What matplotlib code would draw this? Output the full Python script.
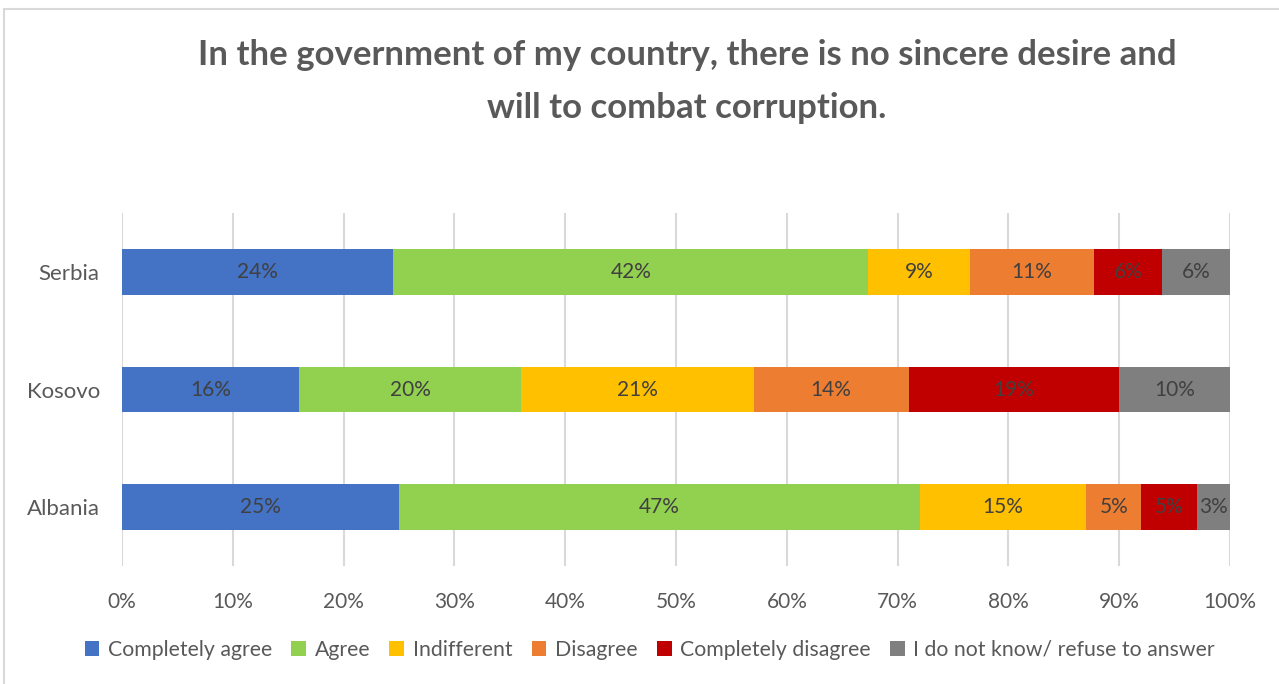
### Modules to import
import numpy as np
import matplotlib
matplotlib.use("Agg")
import matplotlib.pyplot as plt
from matplotlib.patches import Rectangle

### Data (percent of respondents, per answer)
countries = ["Albania", "Kosovo", "Serbia"]
answers = ["Completely agree", "Agree", "Indifferent", "Disagree",
           "Completely disagree", "I do not know/ refuse to answer"]
completely_agree = [25, 16, 24]
agree = [47, 20, 42]
indifferent = [15, 21, 9]
disagree = [5, 14, 11]
completely_disagree = [5, 19, 6]
dont_know = [3, 10, 6]
tick_labels = ["0%", "10%", "20%", "30%", "40%", "50%", "60%", "70%", "80%", "90%", "100%"]

colors = ["#4472C4", "#92D050", "#FFC000", "#ED7D31", "#C00000", "#7F7F7F"]
font = "Lato"
text_grey = "#595959"

### Figure
fig = plt.figure(figsize=(12.79, 6.84), dpi=100)
ax = fig.add_axes([0.0954, 0.1725, 0.8663, 0.5161])

series = np.array([completely_agree, agree, indifferent, disagree,
                   completely_disagree, dont_know], dtype=float)
# 100% stacked: each country row is scaled to its own total
shares = series / series.sum(axis=0) * 100

y = np.arange(len(countries))
left = np.zeros(len(countries))
for k in range(len(answers)):
    bars = ax.barh(y, shares[k], left=left, height=0.39, color=colors[k],
                   label=answers[k], zorder=3)
    for i in range(len(countries)):
        ax.text(left[i] + shares[k][i] / 2, y[i], str(int(series[k][i])) + "%",
                ha="center", va="center", fontsize=15, color="#404040",
                family=font, zorder=4)
    left = left + shares[k]

ax.set_xlim(0, 100)
ax.set_ylim(-0.5, 2.5)
ax.set_xticks(np.arange(0, 101, 10))
ax.set_xticklabels(tick_labels, family=font, fontsize=15, color=text_grey)
ax.set_yticks(y)
ax.set_yticklabels(countries, family=font, fontsize=16, color=text_grey)
ax.tick_params(axis="x", length=0, pad=19)
ax.tick_params(axis="y", length=0, pad=16)
ax.grid(axis="x", color="#D9D9D9", linewidth=1.5, zorder=0)
for s in ax.spines.values():
    s.set_visible(False)

# title, two lines
fig.text(0.537, 1 - 55 / 684, "In the government of my country, there is no sincere desire and",
         ha="center", va="center", fontsize=25, fontweight="bold", color=text_grey, family=font)
fig.text(0.537, 1 - 108 / 684, "will to combat corruption.",
         ha="center", va="center", fontsize=25, fontweight="bold", color=text_grey, family=font)

leg = fig.legend(loc="center", bbox_to_anchor=(0.508, 1 - 650 / 684), ncol=6, frameon=False,
                 handlelength=0.7, handleheight=0.7, handletextpad=0.4, columnspacing=0.9,
                 prop={"family": font, "size": 15.3})
for t in leg.get_texts():
    t.set_color(text_grey)

# chart border
fig.patches.append(Rectangle((4 / 1279, -0.1), 1.2, 1.1 - 9 / 684, transform=fig.transFigure,
                             fill=False, edgecolor="#D9D9D9", linewidth=1.5))

fig.savefig("out.png", dpi=100)
